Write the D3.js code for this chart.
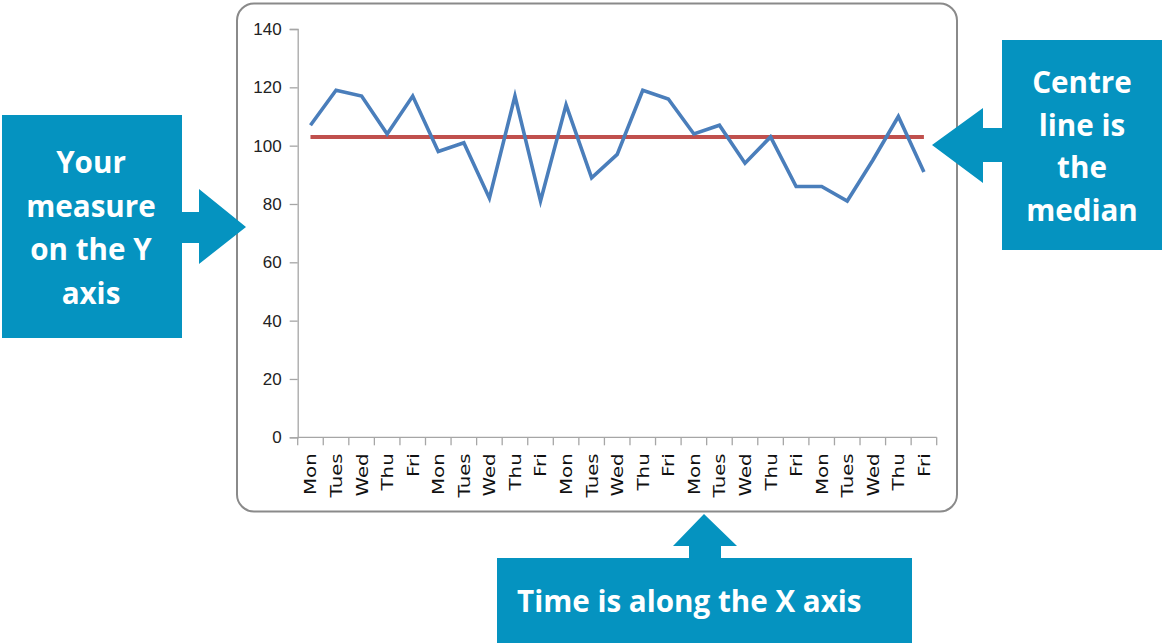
<!DOCTYPE html>
<html>
<head>
<meta charset="utf-8">
<script src="https://cdn.jsdelivr.net/npm/d3@7"></script>
<style>
  html, body { margin: 0; padding: 0; background: #fff; }
  svg { display: block; }
</style>
</head>
<body>
<svg id="chart" width="1162" height="643"></svg>
<script>
// ---- data ----
const days = ["Mon","Tues","Wed","Thu","Fri","Mon","Tues","Wed","Thu","Fri",
              "Mon","Tues","Wed","Thu","Fri","Mon","Tues","Wed","Thu","Fri",
              "Mon","Tues","Wed","Thu","Fri"];
const measure = [107,119,117,104,117,98,101,82,117,81,
                 114,89,97,119,116,104,107,94,103,86,
                 86,81,95,110,91];
const median = 103;
const yTicks = [0,20,40,60,80,100,120,140];
const calloutY = ["Your","measure","on the Y","axis"];
const calloutC = ["Centre","line is","the","median"];
const calloutX = ["Time is along the X axis"];

// ---- layout ----
const svg = d3.select("#chart");
const blue = "#0593C0";

// chart frame
svg.append("rect")
  .attr("x", 237).attr("y", 3.5).attr("width", 720).attr("height", 508)
  .attr("rx", 17).attr("ry", 17)
  .attr("fill", "#fff").attr("stroke", "#8a8a8a").attr("stroke-width", 2);

const x = d3.scaleBand().domain(d3.range(days.length)).range([297.7, 936.7]).padding(0);
const y = d3.scaleLinear().domain([0, 140]).range([437.3, 29]);

const axisColor = "#a6a6a6";
const g = svg.append("g");

// y axis
const yAxis = g.append("g").attr("transform", "translate(297.7,0)")
  .call(d3.axisLeft(y).tickValues(yTicks).tickSize(8).tickPadding(8));
yAxis.select(".domain").attr("stroke", axisColor).attr("stroke-width", 1.3);
yAxis.selectAll(".tick line").attr("stroke", axisColor).attr("stroke-width", 1.3);
yAxis.selectAll(".tick text")
  .attr("font-family", "'Liberation Sans', Arial, sans-serif")
  .attr("font-size", 17).attr("fill", "#222");

// x axis line
g.append("line")
  .attr("x1", x.range()[0]).attr("x2", x.range()[1])
  .attr("y1", y(0)).attr("y2", y(0))
  .attr("stroke", axisColor).attr("stroke-width", 1.3);
// x ticks at category boundaries
g.selectAll(".xtick").data(d3.range(days.length + 1)).join("line")
  .attr("class", "xtick")
  .attr("x1", i => x.range()[0] + i * x.step())
  .attr("x2", i => x.range()[0] + i * x.step())
  .attr("y1", y(0)).attr("y2", y(0) + 8)
  .attr("stroke", axisColor).attr("stroke-width", 1.3);
// x labels rotated
g.selectAll(".xlab").data(days).join("text")
  .attr("class", "xlab")
  .attr("transform", (d, i) => `translate(${x(i) + x.bandwidth() / 2},${y(0) + 16}) rotate(-90) scale(1.2,1)`)
  .attr("text-anchor", "end")
  .attr("dy", "0.36em")
  .attr("font-family", "'DejaVu Sans', sans-serif")
  .attr("font-size", 16.5)
  .attr("fill", "#111")
  .text(d => d);

// median line
g.append("line")
  .attr("x1", x(0) + x.bandwidth() / 2).attr("x2", x(days.length - 1) + x.bandwidth() / 2)
  .attr("y1", y(median)).attr("y2", y(median))
  .attr("stroke", "#C0504D").attr("stroke-width", 4);

// measure line
const line = d3.line().x((d, i) => x(i) + x.bandwidth() / 2).y(d => y(d));
g.append("path").datum(measure)
  .attr("d", line)
  .attr("fill", "none").attr("stroke", "#4A7EBB").attr("stroke-width", 3.6)
  .attr("stroke-linejoin", "miter").attr("stroke-miterlimit", 10);

// ---- callouts ----
const fontC = "'Open Sans', Lato, sans-serif";
const fsC = 29.6;

// left callout: box + right arrow
svg.append("path").attr("fill", blue)
  .attr("d", "M2,115 H182 V212 H199 V189 L246,227 L199,264 V243 H182 V338 H2 Z");
svg.append("g").selectAll("text").data(calloutY).join("text")
  .attr("x", 91).attr("y", (d, i) => 163 + i * 43.5)
  .attr("dy", "0.35em")
  .attr("text-anchor", "middle")
  .attr("font-family", fontC).attr("font-weight", 700).attr("font-size", fsC)
  .attr("fill", "#fff").text(d => d);

// right callout: box + left arrow
svg.append("path").attr("fill", blue)
  .attr("d", "M1002,40 H1162 V250 H1002 V162 H983 V183 L932,145 L983,108 V128 H1002 Z");
svg.append("g").selectAll("text").data(calloutC).join("text")
  .attr("x", 1082).attr("y", (d, i) => 83 + i * 42.5)
  .attr("dy", "0.35em")
  .attr("text-anchor", "middle")
  .attr("font-family", fontC).attr("font-weight", 700).attr("font-size", fsC)
  .attr("fill", "#fff").text(d => d);

// bottom callout: box + up arrow
svg.append("path").attr("fill", blue)
  .attr("d", "M497,558 H689 V546 H673 L704,514 L737,546 H721 V558 H912 V643 H497 Z");
svg.append("g").selectAll("text").data(calloutX).join("text")
  .attr("x", 517).attr("y", 602)
  .attr("dy", "0.35em")
  .attr("text-anchor", "start")
  .attr("font-family", fontC).attr("font-weight", 700).attr("font-size", fsC)
  .attr("fill", "#fff").text(d => d);
</script>
</body>
</html>
